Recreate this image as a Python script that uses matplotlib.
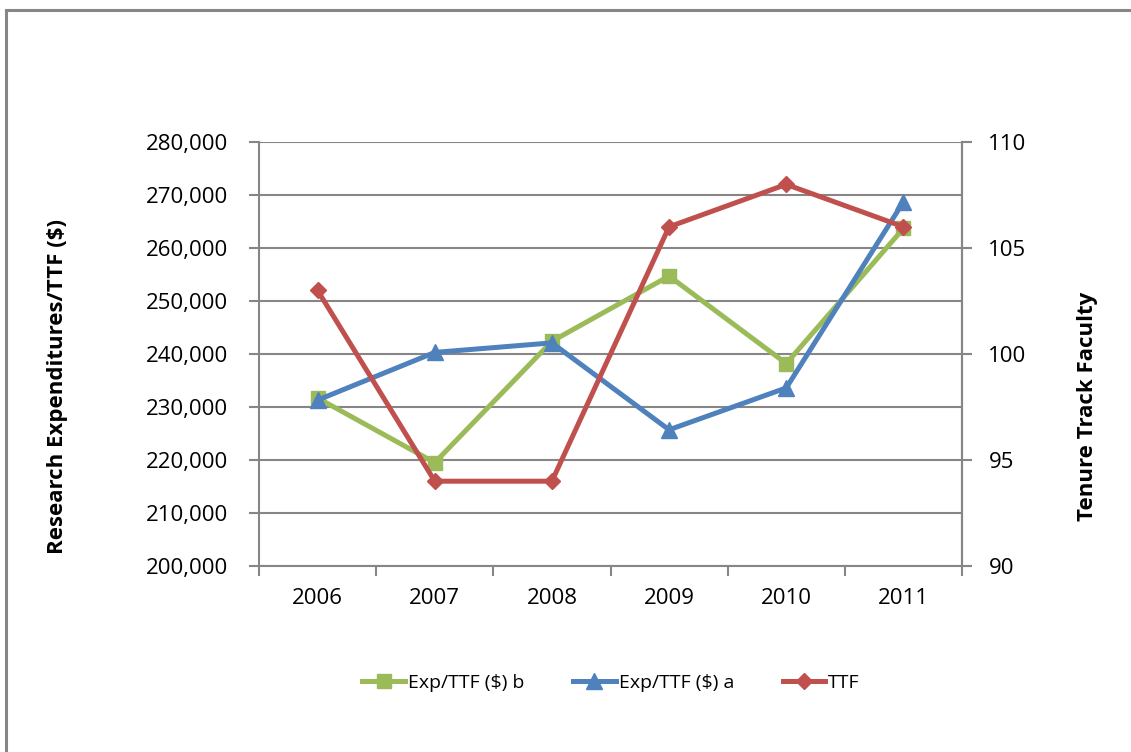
import matplotlib
matplotlib.use("Agg")
import matplotlib.pyplot as plt
from matplotlib.patches import Rectangle
from matplotlib.ticker import FuncFormatter, FixedLocator

plt.rcParams['font.family'] = ['Open Sans', 'DejaVu Sans']

years = ["2006", "2007", "2008", "2009", "2010", "2011"]
exp_b = [231700, 219500, 242400, 254700, 238200, 263700]
exp_a = [231300, 240300, 242100, 225700, 233600, 268700]
ttf = [103, 94, 94, 106, 108, 106]

green = "#9BBB59"
blue = "#4F81BD"
red = "#C0504D"
gray = "#868686"

fig = plt.figure(figsize=(11.31, 7.52), dpi=100)
ax = fig.add_axes([259 / 1131, 1 - 566 / 752, (962 - 259) / 1131, (566 - 142) / 752])
ax2 = ax.twinx()

x = list(range(len(years)))

# --- left axis series ---
l1, = ax.plot(x, exp_b, color=green, linewidth=3.6, marker="s", markersize=10,
              label="Exp/TTF ($) b", zorder=3)
l2, = ax.plot(x, exp_a, color=blue, linewidth=3.6, marker="^", markersize=11,
              label="Exp/TTF ($) a", zorder=4)
# --- right axis series ---
l3, = ax2.plot(x, ttf, color=red, linewidth=3.6, marker="D", markersize=8,
               label="TTF", zorder=5)

ax.set_xlim(-0.5, len(years) - 0.5)
ax.set_ylim(200000, 280000)
ax.set_yticks(range(200000, 280001, 10000))
ax.yaxis.set_major_formatter(FuncFormatter(lambda v, p: f"{int(v):,}"))
ax2.set_ylim(90, 110)
ax2.set_yticks(range(90, 111, 5))

ax.set_xticks(x)
ax.set_xticklabels(years)
ax.xaxis.set_minor_locator(FixedLocator([i - 0.5 for i in range(len(years) + 1)]))
ax.tick_params(axis="x", which="major", length=0, pad=16, labelsize=16)
ax.tick_params(axis="x", which="minor", length=7, width=1.5, color=gray, direction="out")
ax.tick_params(axis="y", length=7, width=1.5, color=gray, pad=15, labelsize=16)
ax2.tick_params(axis="y", length=7, width=1.5, color=gray, pad=12, labelsize=16)

ax.grid(axis="y", color=gray, linewidth=1.5)
ax.set_axisbelow(True)

for a in (ax, ax2):
    a.spines["top"].set_visible(False)
    a.spines["left"].set_color(gray)
    a.spines["right"].set_color(gray)
    a.spines["bottom"].set_color(gray)
    for s in a.spines.values():
        s.set_linewidth(1.5)
ax2.spines["left"].set_visible(False)
ax2.spines["bottom"].set_visible(False)

fig.text(58 / 1131, 1 - 387 / 752, "Research Expenditures/TTF ($)", rotation=90,
         ha="center", va="center", fontsize=16, fontweight="bold")
fig.text(1087 / 1131, 1 - 406 / 752, "Tenure Track Faculty", rotation=90,
         ha="center", va="center", fontsize=16, fontweight="bold")

fig.legend(handles=[l1, l2, l3], loc="center", bbox_to_anchor=(611 / 1131, 1 - 683 / 752),
           ncol=3, frameon=False, fontsize=14, handlelength=2.2, handletextpad=0.15,
           columnspacing=2.5)

# outer chart border (only top and left edges visible)
fig.patches.append(Rectangle((6 / 1131, -0.1), 1.2, 1 - 10 / 752 + 0.1,
                             transform=fig.transFigure, fill=False,
                             edgecolor=gray, linewidth=2.2))

fig.savefig("out.png", dpi=100)
